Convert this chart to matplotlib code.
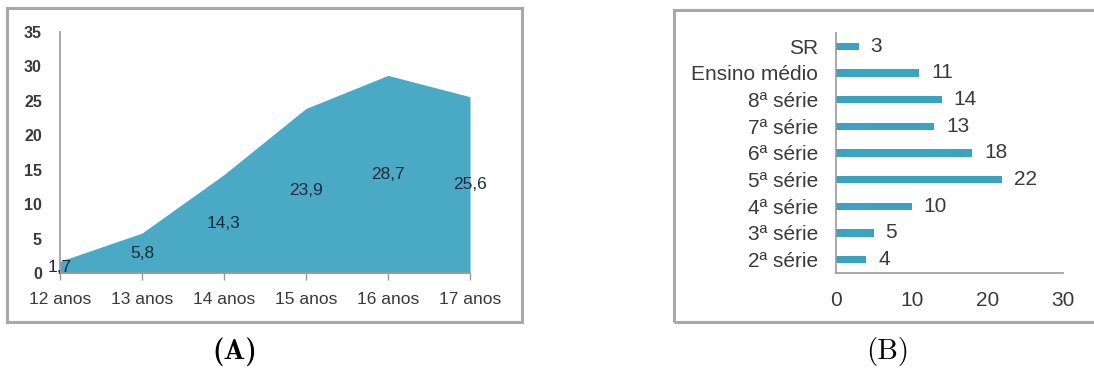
import matplotlib
matplotlib.use("Agg")
import matplotlib.pyplot as plt
from matplotlib.patches import Rectangle

# Data panel A
ages = ["12 anos", "13 anos", "14 anos", "15 anos", "16 anos", "17 anos"]
age_values = [1.7, 5.8, 14.3, 23.9, 28.7, 25.6]
age_labels = ["1,7", "5,8", "14,3", "23,9", "28,7", "25,6"]
yticks_a = [0, 5, 10, 15, 20, 25, 30, 35]

# Data panel B
grades = ["2ª série", "3ª série", "4ª série", "5ª série", "6ª série",
          "7ª série", "8ª série", "Ensino médio", "SR"]
grade_values = [4, 5, 10, 22, 18, 13, 14, 11, 3]
xticks_b = [0, 10, 20, 30]

W, H = 1094, 371
fig = plt.figure(figsize=(W / 100, H / 100), dpi=100)
fig.patch.set_facecolor("white")

def fx(px):
    return px / W

def fy(py):
    return 1 - py / H

# frames
fig.patches.append(Rectangle((fx(7), fy(322)), fx(522 - 7), (322 - 8) / H,
                             transform=fig.transFigure, fill=False,
                             edgecolor="#a8a8a8", linewidth=2.2))
fig.patches.append(Rectangle((fx(674), fy(322)), fx(1110 - 674), (322 - 10) / H,
                             transform=fig.transFigure, fill=False,
                             edgecolor="#a8a8a8", linewidth=2.2, clip_on=False))

FONT = "Liberation Sans"
area_color = "#4aa9c5"
bar_color = "#3aa3c2"
gray_txt = "#3a3a3a"

# Panel A
axA = fig.add_axes([fx(60), fy(273), fx(470 - 60), (273 - 32) / H])
x = list(range(len(ages)))
axA.fill_between(x, age_values, 0, color=area_color, linewidth=0)
axA.set_xlim(0, len(ages) - 1)
axA.set_ylim(0, 35)
axA.set_yticks(yticks_a)
axA.set_yticklabels([str(v) for v in yticks_a], fontsize=11.5, color=gray_txt,
                    family=FONT, fontweight="bold")
axA.set_xticks(x)
axA.set_xticklabels(ages, fontsize=12.5, color=gray_txt, family=FONT)
axA.tick_params(axis="y", length=0, pad=13)
axA.tick_params(axis="x", length=5, width=1, color="#999999", pad=9, direction="out")
for s in ["top", "right"]:
    axA.spines[s].set_visible(False)
axA.spines["left"].set_color("#999999")
axA.spines["bottom"].set_color("#999999")
axA.spines["left"].set_linewidth(1.2)
axA.spines["bottom"].set_linewidth(1.2)
axA.patch.set_alpha(0)
for xi, v, lab in zip(x, age_values, age_labels):
    axA.text(xi, v / 2, lab, ha="center", va="center", fontsize=12.5,
             color="#1c2b3a", family=FONT)

# Panel B
axB = fig.add_axes([fx(836), fy(273), fx(1063 - 836), (273 - 33) / H])
y = list(range(len(grades)))
axB.barh(y, grade_values, height=0.28, color=bar_color)
axB.set_xlim(0, 30)
axB.set_ylim(-0.5, len(grades) - 0.5)
axB.set_xticks(xticks_b)
axB.set_xticklabels([str(v) for v in xticks_b], fontsize=15, color=gray_txt, family=FONT)
axB.set_yticks(y)
axB.set_yticklabels(grades, fontsize=15, color=gray_txt, family=FONT)
axB.tick_params(axis="both", length=0)
axB.tick_params(axis="x", pad=13)
axB.tick_params(axis="y", pad=13)
for s in ["top", "right"]:
    axB.spines[s].set_visible(False)
axB.spines["left"].set_color("#999999")
axB.spines["bottom"].set_color("#999999")
axB.spines["left"].set_linewidth(1.2)
axB.spines["bottom"].set_linewidth(1.2)
axB.patch.set_alpha(0)
for yi, v in zip(y, grade_values):
    axB.annotate(str(v), (v, yi), xytext=(8.5, 0), textcoords="offset points",
                 ha="left", va="center", fontsize=15, color=gray_txt, family=FONT)

# panel captions
fig.text(fx(235), fy(352), "(A)", ha="center", va="center", fontsize=21,
         family="cmb10")
fig.text(fx(888), fy(352), "(B)", ha="center", va="center", fontsize=21,
         family="cmr10")

fig.savefig("out.png", dpi=100)
